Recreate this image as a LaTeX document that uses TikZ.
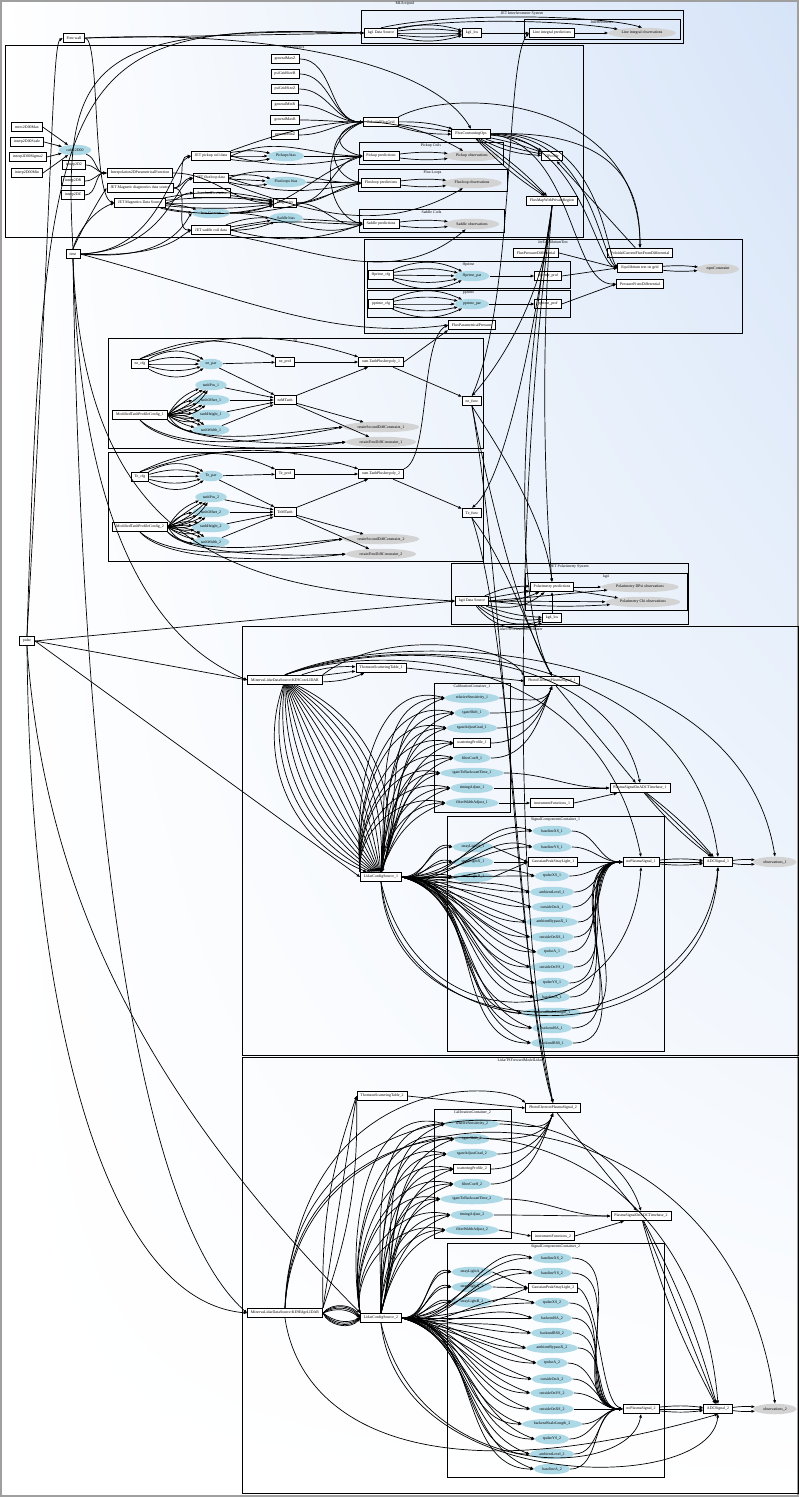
\documentclass[tikz,border=0pt]{standalone}
\usepackage{fontspec}
\setmainfont{Liberation Serif}
\usetikzlibrary{arrows.meta,shapes.geometric,shadings}
\definecolor{parblue}{RGB}{173,216,230}
\definecolor{obsgray}{RGB}{211,211,211}
\definecolor{bgblue}{RGB}{214,228,248}
\newcommand{\gvf}{\fontsize{3.9}{4.2}\selectfont}
\newcommand{\gvcl}[5]{\draw[cl] (#1,#2) rectangle (#3,#4); \node[cll] at ({(#1+#3)/2},#2+0.8) {#5};}
\begin{document}
\begin{tikzpicture}[x=1pt,y=-1pt,
 box/.style={draw, line width=0.85pt, fill=white, inner xsep=3.5pt, inner ysep=0pt, minimum height=9.5pt, font=\gvf},
 par/.style={ellipse, fill=parblue, inner xsep=3pt, inner ysep=0pt, minimum height=10.5pt, font=\gvf},
 obs/.style={ellipse, fill=obsgray, inner xsep=3.5pt, inner ysep=0pt, minimum height=10.5pt, font=\gvf},
 cl/.style={draw, line width=0.75pt},
 cll/.style={font=\gvf, anchor=north, inner sep=0.3pt},
 e/.style={-{Triangle[length=3.4pt,width=2.6pt]}, line width=0.7pt},
]
\useasboundingbox (0,0) rectangle (799,1497);
\shade[upper right=bgblue, upper left=white, lower left=white, lower right=white] (0,0) rectangle (799,1497);
\draw[gray!75, line width=1.8pt] (1,1) rectangle (798,1496);
\node[cll] at (405,1.5) {MLScripted};
% clusters
\gvcl{361}{10}{683}{43}{JET Interferometer System}
\gvcl{524}{19}{680}{39}{Interferometer}
\gvcl{5}{45}{583}{237}{JetMagnetics}
\gvcl{359}{142}{503}{164}{Pickup Coils}
\gvcl{358}{169}{507}{191}{Flux Loops}
\gvcl{359}{209}{504}{232}{Saddle Coils}
\gvcl{364}{239}{742}{333}{JetEquilibriumTest}
\gvcl{367}{261}{570}{288}{ffprime}
\gvcl{367}{290}{570}{317}{pprime}
\gvcl{108}{338}{483}{448}{ne}
\gvcl{108}{452}{483}{561}{Te}
\gvcl{451}{563}{688}{624}{JET Polarimetry System}
\gvcl{525}{573}{687}{610}{kg4}
\gvcl{242}{626}{798}{1055}{LidarTSForwardModelLaser}
\gvcl{434}{683}{510}{812}{CalibrationContainer\_1}
\gvcl{447}{816}{664}{1051}{SignalComponentsContainer\_1}
\gvcl{242}{1057}{798}{1493}{LidarTSForwardModelLidar}
\gvcl{434}{1109}{511}{1238}{CalibrationContainer\_2}
\gvcl{447}{1243}{664}{1477}{SignalComponentsContainer\_2}
% ---------- nodes: top
\node[box] (firstwall) at (74,38) {First wall};
\node[box] (kgone) at (381,33) {kg1 Data Source};
\node[box] (kgonelos) at (472,33) {kg1\_los};
\node[box] (lip) at (552,33) {Line integral predictions};
\node[obs] (lio) at (642,33) {Line integral observations};
% magnetics
\node[box] (i1) at (27,127) {mrec2D00Max};
\node[box] (i2) at (27,142) {interp2D00Scale};
\node[box] (i3) at (28,157) {interp2D00Sigma2};
\node[box] (i4) at (27,173) {interp2D00Min};
\node[par] (cubic) at (75,150) {cubic2D00};
\node[box] (ia) at (74,165) {interp2D2};
\node[box] (ib) at (73,181) {interp2DR};
\node[box] (ic) at (73,195) {interp2DZ};
\node[box] (ipf) at (140,173) {Interpolation2DParametricalFunction};
\node[box] (jmdds) at (140,188) {JET Magnetic diagnostics data source};
\node[box] (jmds) at (140,203) {JET Magnetics Data Source};
\node[box] (pcd) at (211,156) {JET pickup coil data};
\node[box] (fld) at (211,178) {JET fluxloop data};
\node[box] (std) at (212,193) {StandardDeviation};
\node[par] (iron) at (211,213) {Iron Currents};
\node[box] (scd) at (211,230) {JET saddle coil data};
\node[par] (pbias) at (286,156) {Pickups bias};
\node[par] (fbias) at (286,182) {Fluxloops bias};
\node[box] (mag) at (285,203) {Magnetics};
\node[par] (sbias) at (286,218) {Saddle bias};
\node[box] (g1) at (285,59) {generalMaxZ};
\node[box] (g2) at (285,74) {psiGridSizeR};
\node[box] (g3) at (285,89) {psiGridSizeZ};
\node[box] (g4) at (285,105) {generalMinR};
\node[box] (g5) at (285,120) {generalMaxR};
\node[box] (g6) at (285,135) {generalMinZ};
\node[box] (pfg) at (381,122) {PoloidalFluxGrid};
\node[box] (fco) at (471,134) {FluxContouringOps};
\node[box] (pp) at (381,156) {Pickup predictions};
\node[obs] (po) at (472,156) {Pickup observations};
\node[box] (fp) at (381,183) {Fluxloop predictions};
\node[obs] (fo) at (472,183) {Fluxloop observations};
\node[box] (sp) at (381,224) {Saddle predictions};
\node[obs] (so) at (472,224) {Saddle observations};
\node[box] (qp) at (552,156) {QProfile};
\node[box] (fmap) at (552,201) {FluxMapWithPrivateRegion};
% equilibrium
\node[box] (fpd) at (536,253) {FluxPressureDifferential};
\node[box] (pcf) at (640,253) {PoloidalCurrentFluxFromDifferential};
\node[box] (eq) at (640,268) {Equilibrium test on grid};
\node[obs] (eqc) at (718,269) {eqmConstraint};
\node[box] (pfd) at (640,284) {PressureFromDifferential};
\node[box] (ffcfg) at (381,275) {ffprime\_cfg};
\node[par] (ffpar) at (472,276) {ffprime\_par};
\node[box] (ffprof) at (548,276) {ffprime\_prof};
\node[box] (ppcfg) at (381,304) {pprime\_cfg};
\node[par] (pppar) at (472,304) {pprime\_par};
\node[box] (ppprof) at (548,304) {pprime\_prof};
\node[box] (fpp) at (472,325) {FluxParametricalPressure};
% left
\node[box] (time) at (73,254) {time};
\node[box] (pulse) at (27,641) {pulse};
% ne
\node[box] (necfg) at (140,364) {ne\_cfg};
\node[par] (nepar) at (211,364) {ne\_par};
\node[box] (neprof) at (285,362) {ne\_prof};
\node[box] (sumone) at (381,362) {sum.TanhPlusInvpoly\_1};
\node[box] (nemt) at (285,400) {neMTanh};
\node[box] (nefunc) at (472,401) {ne\_func};
\node[par] (tp1) at (211,385) {tanhPos\_1};
\node[par] (to1) at (211,400) {tanhOffset\_1};
\node[par] (th1) at (211,415) {tanhHeight\_1};
\node[par] (tw1) at (211,430) {tanhWidth\_1};
\node[box] (mtc1) at (140,415) {ModifiedTanhProfileConfig\_1};
\node[obs] (rs1) at (381,427) {retainSecondDiffConstraint\_1};
\node[obs] (rf1) at (381,442) {retainFirstDiffConstraint\_1};
% Te
\node[box] (tecfg) at (140,477) {Te\_cfg};
\node[par] (tepar) at (211,476) {Te\_par};
\node[box] (teprof) at (285,474) {Te\_prof};
\node[box] (sumtwo) at (381,474) {sum.TanhPlusInvpoly\_2};
\node[box] (temt) at (285,512) {TeMTanh};
\node[box] (tefunc) at (472,513) {Te\_func};
\node[par] (tp2) at (211,497) {tanhPos\_2};
\node[par] (to2) at (211,512) {tanhOffset\_2};
\node[par] (th2) at (211,527) {tanhHeight\_2};
\node[par] (tw2) at (211,542) {tanhWidth\_2};
\node[box] (mtc2) at (140,527) {ModifiedTanhProfileConfig\_2};
\node[obs] (rs2) at (381,539) {retainSecondDiffConstraint\_2};
\node[obs] (rf2) at (381,554) {retainFirstDiffConstraint\_2};
% polarimetry
\node[box] (kgfour) at (472,601) {kg4 Data Source};
\node[box] (polp) at (552,587) {Polarimetry predictions};
\node[obs] (pold) at (640,587) {Polarimetry DPsi observations};
\node[obs] (polc) at (643,602) {Polarimetry Chi observations};
\node[box] (kgfourlos) at (552,618) {kg4\_los};
% lidar 1
\node[box] (mld1) at (285,680) {MinervaLidarDataSource:KE9CoreLIDAR};
\node[box] (tst1) at (381,668) {ThomsonScatteringTable\_1};
\node[box] (pep1) at (552,681) {PhotoElectronPlasmaSignal\_1};
\node[par] (c1a) at (472,698) {relativeSensitivity\_1};
\node[par] (c1b) at (472,713) {tgateShift\_1};
\node[par] (c1c) at (472,728) {tgateAdjustGrad\_1};
\node[box] (c1d) at (472,743) {scatteringProfile\_1};
\node[par] (c1e) at (472,758) {filterCoeff\_1};
\node[par] (c1f) at (472,773) {tgateToBackscattTime\_1};
\node[par] (c1g) at (472,788) {timingAdjust\_1};
\node[par] (c1h) at (472,803) {filterWidthAdjust\_1};
\node[box] (psadc1) at (640,788) {PlasmaSignalOnADCTimebase\_1};
\node[box] (if1) at (552,803) {instrumentFunctions\_1};
\node[box] (lcs1) at (381,877) {LidarConfigSource\_1};
\node[par] (sl1a) at (473,847) {strayLightA\_1};
\node[par] (sl1x) at (473,862) {strayLightX\_1};
\node[par] (sl1b) at (473,877) {strayLightB\_1};
\node[box] (gps1) at (553,862) {GaussianPeakStrayLight\_1};
\node[box] (npp1) at (641,862) {noPlasmaSignal\_1};
\node[box] (adc1) at (718,862) {ADCSignal\_1};
\node[obs] (obs1) at (775,862) {observations\_1};
\node[par] (s1a) at (552,831) {baselineXS\_1};
\node[par] (s1b) at (552,847) {baselineYS\_1};
\node[par] (s1c) at (552,876) {tpulseXS\_1};
\node[par] (s1d) at (552,892) {ambientLevel\_1};
\node[par] (s1e) at (552,907) {outsideOnA\_1};
\node[par] (s1f) at (552,922) {ambientBypassX\_1};
\node[par] (s1g) at (552,937) {outsideOnXS\_1};
\node[par] (s1h) at (552,952) {tpulseA\_1};
\node[par] (s1i) at (552,967) {outsideOnYS\_1};
\node[par] (s1j) at (552,983) {tpulseYS\_1};
\node[par] (s1k) at (552,997) {baselineA\_1};
\node[par] (s1l) at (552,1013) {backendScaleLength\_1};
\node[par] (s1m) at (552,1028) {backendSA\_1};
\node[par] (s1n) at (552,1043) {backendBS0\_1};
% lidar 2
\node[box] (mld2) at (285,1313) {MinervaLidarDataSource:KE9EdgeLIDAR};
\node[box] (tst2) at (382,1096) {ThomsonScatteringTable\_2};
\node[box] (pep2) at (553,1108) {PhotoElectronPlasmaSignal\_2};
\node[par] (c2a) at (472,1124) {relativeSensitivity\_2};
\node[par] (c2b) at (472,1139) {tgateShift\_2};
\node[par] (c2c) at (472,1154) {tgateAdjustGrad\_2};
\node[box] (c2d) at (472,1169) {scatteringProfile\_2};
\node[par] (c2e) at (472,1184) {filterCoeff\_2};
\node[par] (c2f) at (472,1199) {tgateToBackscattTime\_2};
\node[par] (c2g) at (472,1215) {timingAdjust\_2};
\node[par] (c2h) at (472,1230) {filterWidthAdjust\_2};
\node[box] (psadc2) at (641,1216) {PlasmaSignalOnADCTimebase\_2};
\node[box] (if2) at (553,1236) {instrumentFunctions\_2};
\node[box] (lcs2) at (381,1318) {LidarConfigSource\_2};
\node[par] (sl2a) at (472,1272) {strayLightA\_2};
\node[par] (sl2x) at (472,1287) {strayLightX\_2};
\node[par] (sl2b) at (472,1302) {strayLightB\_2};
\node[box] (gps2) at (553,1288) {GaussianPeakStrayLight\_2};
\node[box] (npp2) at (641,1409) {noPlasmaSignal\_2};
\node[box] (adc2) at (718,1409) {ADCSignal\_2};
\node[obs] (obs2) at (775,1409) {observations\_2};
\node[par] (s2a) at (552,1258) {baselineXS\_2};
\node[par] (s2b) at (552,1273) {baselineYS\_2};
\node[par] (s2c) at (552,1303) {tpulseXS\_2};
\node[par] (s2d) at (552,1318) {backendSA\_2};
\node[par] (s2e) at (552,1333) {backendBS0\_2};
\node[par] (s2f) at (552,1348) {ambientBypassX\_2};
\node[par] (s2g) at (552,1363) {tpulseA\_2};
\node[par] (s2h) at (552,1379) {outsideOnA\_2};
\node[par] (s2i) at (552,1393) {outsideOnYS\_2};
\node[par] (s2j) at (552,1409) {outsideOnXS\_2};
\node[par] (s2k) at (552,1424) {backendScaleLength\_2};
\node[par] (s2l) at (552,1439) {tpulseYS\_2};
\node[par] (s2m) at (552,1454) {ambientLevel\_2};
\node[par] (s2n) at (552,1469) {baselineA\_2};
% ================= edges
% top / interferometer
\draw[e] (pulse.north) .. controls (45,60) and (60,22) .. (kgone.west);
\draw[e] (time.north) .. controls (62,60) and (90,26) .. (kgone.west);
\draw[e] (pulse.north) .. controls (52,200) and (52,45) .. (firstwall.west);
\draw[e] (firstwall.east) -- (kgone.west);
\draw[e] (firstwall.east) .. controls (260,30) and (430,60) .. (fco.north);
\draw[e] (firstwall.east) .. controls (100,40) and (92,195) .. (jmds.west);
\foreach \q in {-14,-7,0,7,14} \draw[e] (kgone) to[bend left=\q] (kgonelos);
\draw[e] (kgonelos) -- (lip);
\draw[e] (lip) -- (lio);
\draw[e] (kgone.north) .. controls (450,12) and (600,15) .. (lio.north);
\draw[e] (kgone.north east) .. controls (460,18) and (560,20) .. (lio);
% magnetics
\foreach \n in {i1,i2,i3,i4} \draw[e] (\n.east) -- (cubic);
\draw[e] (cubic) to[out=-20,in=180] (ipf.west);
\foreach \n in {ia,ib,ic} \draw[e] (\n.east) to[out=0,in=180] (ipf.west);
\draw[e] (ipf.east) to[out=0,in=180] (mag.west);
\foreach \n in {pcd,fld,scd} \draw[e] (jmdds.east) to[out=0,in=180] (\n.west);
\foreach \q in {-12,-6,0,6,12} \draw[e] (jmds) to[bend left=\q] (mag);
\draw[e] (jmds) to[bend right=6] (iron);
\draw[e] (jmds) to[bend left=6] (iron);
\draw[e] (jmds.east) to[out=10,in=180] (std.west);
\draw[e] (std) -- (mag);
\draw[e] (time.north) .. controls (78,230) and (95,210) .. (jmds.west);
\draw[e] (time.north) .. controls (84,225) and (100,198) .. (jmdds.west);
\draw[e] (time.east) .. controls (160,252) and (170,165) .. (pcd.west);
\draw[e] (time.east) .. controls (165,250) and (175,185) .. (fld.west);
\draw[e] (time.east) .. controls (165,258) and (180,236) .. (scd.west);
\draw[e] (time.east) .. controls (170,262) and (185,222) .. (iron.west);
\foreach \q in {-10,0,10} \draw[e] (pcd) to[bend left=\q] (pbias);
\foreach \q in {-10,0,10} \draw[e] (fld) to[bend left=\q] (fbias);
\foreach \q in {-10,0,10} \draw[e] (scd) to[bend left=\q] (sbias);
\draw[e] (pcd.east) to[out=25,in=180] (pp.west);
\draw[e] (pcd.east) to[out=-15,in=190] (pp.west);
\draw[e] (pcd.north east) to[out=20,in=150] (po);
\draw[e] (fld.east) to[out=20,in=180] (fp.west);
\draw[e] (fld.east) to[out=-20,in=190] (fp.west);
\draw[e] (fld.south east) to[out=-20,in=210] (fo);
\draw[e] (scd.east) to[out=15,in=180] (sp.west);
\draw[e] (scd.east) to[out=-15,in=200] (sp.west);
\draw[e] (scd.south east) to[out=-10,in=220] (so);
\draw[e] (pbias) -- (pp);
\draw[e] (fbias) -- (fp);
\draw[e] (sbias) -- (sp);
\foreach \n in {pp,fp,sp} {\draw[e] (mag.east) to[out=0,in=190] (\n.west); \draw[e] (iron.east) to[out=0,in=200] (\n.west);}
\foreach \q in {-6,6} {\draw[e] (pp) to[bend left=\q] (po); \draw[e] (fp) to[bend left=\q] (fo); \draw[e] (sp) to[bend left=\q] (so);}
\foreach \n in {g1,g2,g3,g4,g5,g6} \draw[e] (\n.east) to[out=0,in=180] (pfg.west);
\foreach \q in {-8,0,8} \draw[e] (pfg) to[bend left=\q] (fco);
\draw[e] (pfg.west) .. controls (330,130) and (335,150) .. (pp.west);
\draw[e] (pfg.west) .. controls (320,135) and (330,175) .. (fp.west);
\draw[e] (pfg.west) .. controls (315,140) and (325,215) .. (sp.west);
\draw[e] (pfg.north east) .. controls (460,85) and (640,100) .. (pcf.north);
\foreach \q in {-12,-4,4,12} \draw[e] (fco) to[bend left=\q] (qp);
\foreach \q in {-6,0,6} \draw[e] (fco) to[bend left=\q] (fmap);
\draw[e] (fco.east) .. controls (590,130) and (600,255) .. (eq.west);
\draw[e] (fco.east) .. controls (580,136) and (595,262) .. (eq.west);
\draw[e] (fco.east) .. controls (600,126) and (605,250) .. (eq.west);
\draw[e] (fco.east) .. controls (630,128) and (640,200) .. (pcf.north);
\draw[e] (fco.east) .. controls (575,145) and (570,285) .. (pfd.west);
\draw[e] (pcf) -- (qp);
% equilibrium
\foreach \q in {-24,-12,0,12,24} {\draw[e] (ffcfg) to[bend left=\q] (ffpar); \draw[e] (ppcfg) to[bend left=\q] (pppar);}
\draw[e] (ffpar) -- (ffprof);
\draw[e] (pppar) -- (ppprof);
\draw[e] (ffprof.east) -- (eq.west);
\draw[e] (ppprof.east) -- (pfd.west);
\draw[e] (fpd.east) -- (eq.west);
\foreach \q in {-5,5} \draw[e] (eq) to[bend left=\q] (eqc);
\draw[e] (sumone.east) -- (fpp.south west);
\draw[e] (sumtwo.north east) .. controls (430,460) and (420,340) .. (fpp.west);
\draw[e] (time.east) .. controls (250,300) and (330,340) .. (fpp.west);
% ne
\foreach \q in {-30,-15,0,15,30} \draw[e] (necfg) to[bend left=\q] (nepar);
\draw[e] (necfg.north) to[bend left=25] (neprof);
\draw[e] (necfg.north) to[bend left=18] (sumone.north west);
\draw[e] (nepar) -- (neprof);
\draw[e] (nepar) -- (nemt);
\draw[e] (neprof) -- (sumone);
\foreach \n in {tp1,to1,th1,tw1} {\foreach \q in {-24,-10,5,18} \draw[e] (mtc1.east) to[bend left=\q] (\n); \draw[e] (\n) -- (nemt);}
\draw[e] (mtc1.south east) .. controls (200,450) and (300,430) .. (rs1.west);
\draw[e] (mtc1.south east) .. controls (190,445) and (310,445) .. (rf1.west);
\draw[e] (mtc1.south) .. controls (180,455) and (280,440) .. (rs1.west);
\draw[e] (mtc1.south) .. controls (170,455) and (300,450) .. (rf1.west);
\draw[e] (nemt) -- (sumone);
\draw[e] (nemt) -- (rs1);
\draw[e] (nemt) -- (rf1);
\draw[e] (sumone) -- (nefunc);
% Te
\foreach \q in {-30,-15,0,15,30} \draw[e] (tecfg) to[bend left=\q] (tepar);
\draw[e] (tecfg.north) to[bend left=25] (teprof);
\draw[e] (tecfg.north) to[bend left=18] (sumtwo.north west);
\draw[e] (tepar) -- (teprof);
\draw[e] (tepar) -- (temt);
\draw[e] (teprof) -- (sumtwo);
\foreach \n in {tp2,to2,th2,tw2} {\foreach \q in {-24,-10,5,18} \draw[e] (mtc2.east) to[bend left=\q] (\n); \draw[e] (\n) -- (temt);}
\draw[e] (mtc2.south east) .. controls (200,560) and (300,542) .. (rs2.west);
\draw[e] (mtc2.south east) .. controls (190,558) and (310,556) .. (rf2.west);
\draw[e] (mtc2.south) .. controls (180,565) and (280,550) .. (rs2.west);
\draw[e] (mtc2.south) .. controls (170,566) and (300,560) .. (rf2.west);
\draw[e] (temt) -- (sumtwo);
\draw[e] (temt) -- (rs2);
\draw[e] (temt) -- (rf2);
\draw[e] (sumtwo) -- (tefunc);
% mapping / long vertical edges
\draw[e] (fmap.south) .. controls (545,300) and (495,370) .. (nefunc.north);
\draw[e] (fmap.south) .. controls (535,330) and (505,480) .. (tefunc.north);
\draw[e] (nefunc.north) .. controls (515,300) and (505,60) .. (lip.west);
\draw[e] (fmap.south) .. controls (540,350) and (545,500) .. (polp.north);
\draw[e] (nefunc.south) .. controls (500,450) and (545,520) .. (polp.north);
\draw[e] (fmap.south) .. controls (520,400) and (512,600) .. (pep1.north);
\draw[e] (nefunc.south) .. controls (490,500) and (520,620) .. (pep1.north);
\draw[e] (tefunc.south) .. controls (505,560) and (528,630) .. (pep1.north);
\draw[e] (fmap.south) .. controls (515,500) and (512,900) .. (pep2.north);
\draw[e] (nefunc.south) .. controls (505,600) and (515,950) .. (pep2.north);
\draw[e] (tefunc.south) .. controls (515,650) and (520,1000) .. (pep2.north);
% polarimetry
\foreach \q in {-25,-12,0,12} \draw[e] (kgfour) to[bend left=\q] (polp);
\foreach \q in {8,18,28,38} \draw[e] (kgfour) to[bend right=\q] (kgfourlos);
\draw[e] (kgfour.east) -- (pold);
\draw[e] (kgfour.east) -- (polc);
\draw[e] (kgfour.east) to[bend right=5] (polc);
\draw[e] (kgfourlos) -- (polp);
\draw[e] (polp) -- (pold);
\draw[e] (polp) -- (polc);
\draw[e] (pulse.east) -- (kgfour.west);
\draw[e] (time.south) .. controls (85,560) and (250,590) .. (kgfour.west);
% lidar 1
\draw[e] (pulse.east) -- (mld1.west);
\draw[e] (pulse.east) -- (lcs1.west);
\draw[e] (time.south) .. controls (80,520) and (150,640) .. (mld1.west);
\foreach \q in {-10,0,10} \draw[e] (mld1) to[bend left=\q] (tst1);
\foreach \q in {-44,-38,-32,-26,-20,-14,-8,-2,4,10,16,22,28,34,40} \draw[e] (mld1) to[bend left=\q] (lcs1);
\draw[e] (mld1.north east) .. controls (380,630) and (500,640) .. (pep1.north west);
\draw[e] (mld1.north) .. controls (400,625) and (740,640) .. (obs1.north);
\draw[e] (mld1.north) .. controls (400,630) and (690,645) .. (adc1.north);
\draw[e] (mld1.north) .. controls (400,635) and (610,650) .. (psadc1.north);
\draw[e] (mld1.north) .. controls (390,640) and (600,655) .. (npp1.north);
\draw[e] (tst1.east) -- (pep1.west);
\foreach \n in {c1a,c1b,c1c,c1d,c1e,c1f,c1g,c1h} {\draw[e] (lcs1.north) to[out=85,in=180] (\n.west); \draw[e] (lcs1.north) to[out=70,in=200] (\n.west); \draw[e] (lcs1.north west) to[out=95,in=165] (\n.west);}
\foreach \n in {sl1a,sl1x,sl1b,s1a,s1b,s1c,s1d,s1e,s1f,s1g,s1h,s1i,s1j,s1k,s1l,s1m,s1n} {\draw[e] (lcs1.east) to[out=0,in=180] (\n.west); \draw[e] (lcs1.east) to[out=-15,in=160] (\n.west);}
\foreach \n in {c1a,c1b,c1c,c1d,c1e} \draw[e] (\n.east) to[out=0,in=-110] (pep1.south);
\foreach \n in {c1f,c1g} \draw[e] (\n.east) to[out=0,in=180] (psadc1.west);
\draw[e] (c1h.east) -- (if1.west);
\draw[e] (pep1) -- (psadc1);
\draw[e] (if1.east) -- (psadc1);
\foreach \q in {-6,0,6} {\draw[e] (psadc1) to[bend left=\q] (adc1); \draw[e] (npp1) to[bend left=\q] (adc1);}
\foreach \q in {-6,6} \draw[e] (adc1) to[bend left=\q] (obs1);
\foreach \n in {sl1a,sl1x,sl1b} \draw[e] (\n.east) -- (gps1.west);
\draw[e] (gps1) -- (npp1);
\foreach \n in {s1a,s1b,s1c,s1d,s1e,s1f,s1g,s1h,s1i,s1j,s1k,s1l,s1m,s1n} \draw[e] (\n.east) to[out=0,in=180] (npp1.west);
\draw[e] (lcs1.south) .. controls (400,1062) and (710,1062) .. (adc1.south);
\draw[e] (lcs1.south) .. controls (390,1058) and (700,1056) .. (adc1.south);
\draw[e] (lcs1.south) .. controls (420,1048) and (630,1040) .. (npp1.south);
% lidar 2
\draw[e] (pulse.south) .. controls (30,1000) and (100,1300) .. (mld2.west);
\draw[e] (pulse.south) .. controls (45,900) and (150,1100) .. (lcs2.north west);
\draw[e] (time.south) .. controls (80,700) and (120,1200) .. (mld2.west);
\foreach \q in {-10,0,10} \draw[e] (mld2.north east) to[bend left=\q] (tst2.west);
\foreach \q in {-60,-50,-40,-30,30,40,50,60} \draw[e] (mld2.east) to[bend left=\q] (lcs2.west);
\draw[e] (mld2.north) .. controls (300,1070) and (500,1080) .. (pep2.north west);
\draw[e] (mld2.north) .. controls (300,1060) and (730,1060) .. (obs2.north);
\draw[e] (mld2.north) .. controls (295,1065) and (690,1070) .. (adc2.north);
\draw[e] (mld2.north) .. controls (290,1075) and (600,1080) .. (psadc2.north);
\draw[e] (mld2.south) .. controls (300,1420) and (420,1500) .. (adc2.south);
\draw[e] (tst2.east) -- (pep2.west);
\foreach \n in {c2a,c2b,c2c,c2d,c2e,c2f,c2g,c2h} {\draw[e] (lcs2.north) to[out=90,in=180] (\n.west); \draw[e] (lcs2.north) to[out=75,in=200] (\n.west); \draw[e] (lcs2.north west) to[out=100,in=165] (\n.west);}
\foreach \n in {sl2a,sl2x,sl2b,s2a,s2b,s2c,s2d,s2e,s2f,s2g,s2h,s2i,s2j,s2k,s2l,s2m,s2n} {\draw[e] (lcs2.east) to[out=0,in=180] (\n.west); \draw[e] (lcs2.east) to[out=-15,in=160] (\n.west);}
\foreach \n in {c2a,c2b,c2c,c2d,c2e} \draw[e] (\n.east) to[out=0,in=-110] (pep2.south);
\foreach \n in {c2f,c2g} \draw[e] (\n.east) to[out=0,in=180] (psadc2.west);
\draw[e] (c2h.east) -- (if2.west);
\draw[e] (pep2) -- (psadc2);
\draw[e] (if2.east) -- (psadc2);
\foreach \q in {-6,0,6} {\draw[e] (psadc2) to[bend left=\q] (adc2); \draw[e] (npp2) to[bend left=\q] (adc2);}
\foreach \q in {-6,6} \draw[e] (adc2) to[bend left=\q] (obs2);
\foreach \n in {sl2a,sl2x,sl2b} \draw[e] (\n.east) -- (gps2.west);
\draw[e] (gps2.east) .. controls (600,1300) and (600,1400) .. (npp2.west);
\foreach \n in {s2a,s2b,s2c,s2d,s2e,s2f,s2g,s2h,s2i,s2j,s2k,s2l,s2m,s2n} \draw[e] (\n.east) to[out=0,in=180] (npp2.west);
\draw[e] (lcs2.south) .. controls (400,1495) and (710,1495) .. (adc2.south);
\draw[e] (lcs2.south) .. controls (420,1485) and (630,1480) .. (npp2.south);
\end{tikzpicture}
\end{document}
